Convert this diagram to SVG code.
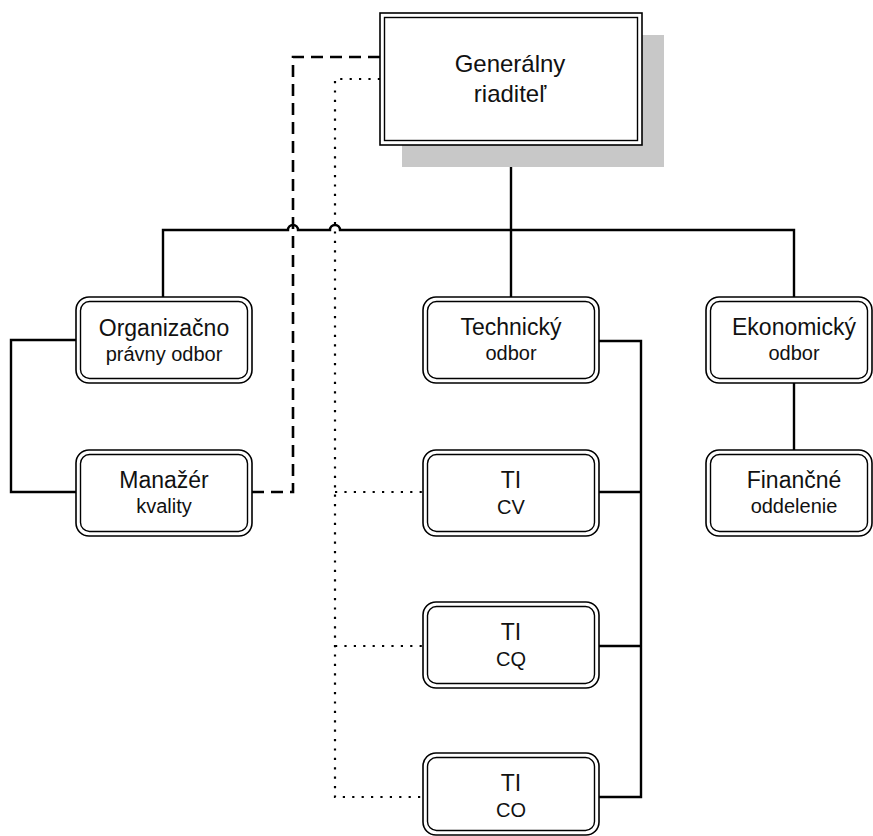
<svg xmlns="http://www.w3.org/2000/svg" width="873" height="836" viewBox="0 0 873 836">
<style>
.bg{fill:#fff}
.o{fill:#fff;stroke:#000;stroke-width:1.6}
.i{fill:none;stroke:#000;stroke-width:1.4}
.t1{font-family:"Liberation Sans",Arial,sans-serif;font-size:23px;fill:#111;text-anchor:middle}
.t2{font-family:"Liberation Sans",Arial,sans-serif;font-size:20px;fill:#111;text-anchor:middle}
.tg{font-family:"Liberation Sans",Arial,sans-serif;font-size:24px;fill:#111;text-anchor:middle}
.solid{fill:none;stroke:#000;stroke-width:2.4}
.dash{fill:none;stroke:#000;stroke-width:2.6;stroke-dasharray:12 7}
.dot{fill:none;stroke:#000;stroke-width:2.2;stroke-dasharray:2.2 7.2}
</style>
<rect class="bg" x="0" y="0" width="873" height="836"/>
<g id="connectors">
<path class="solid" d="M511 145 V297"/>
<path class="solid" d="M163 297 V230 H288 a5 5 0 0 1 10 0 H330 a5 5 0 0 1 10 0 H794 V297"/>
<path class="solid" d="M794 383 V450"/>
<path class="solid" d="M76 340 H11 V492 H76"/>
<path class="solid" d="M599 341 H641 V797 H599 M599 492 H641 M599 646 H641"/>
<path class="dash" d="M252 492 H293 V57 H380"/>
<path class="dot" d="M380 79 H335 V797 H423 M335 492 H423 M335 646 H423"/>
</g>
<g id="generalny-riaditel">
<rect x="402" y="35" width="262" height="132" fill="#c8c8c8"/>
<rect class="o" x="380" y="13" width="262" height="132"/>
<rect class="i" x="384.5" y="17.5" width="253" height="123"/>
<text class="tg" x="510" y="72">Generálny</text>
<text class="tg" x="510" y="102">riaditeľ</text>
</g>
<g id="organizacno">
<rect class="o" x="76" y="297" width="176" height="86" rx="13"/>
<rect class="i" x="80.5" y="301.5" width="167" height="77" rx="9"/>
<text class="t1" x="164" y="336">Organizačno</text>
<text class="t2" x="164" y="361">právny odbor</text>
</g>
<g id="technicky">
<rect class="o" x="423" y="297" width="176" height="86" rx="13"/>
<rect class="i" x="427.5" y="301.5" width="167" height="77" rx="9"/>
<text class="t1" x="511" y="335">Technický</text>
<text class="t2" x="511" y="360">odbor</text>
</g>
<g id="ekonomicky">
<rect class="o" x="706" y="297" width="166" height="86" rx="13"/>
<rect class="i" x="710.5" y="301.5" width="157" height="77" rx="9"/>
<text class="t1" x="794" y="335">Ekonomický</text>
<text class="t2" x="794" y="360">odbor</text>
</g>
<g id="manazer">
<rect class="o" x="76" y="450" width="176" height="86" rx="13"/>
<rect class="i" x="80.5" y="454.5" width="167" height="77" rx="9"/>
<text class="t1" x="164" y="488">Manažér</text>
<text class="t2" x="164" y="513">kvality</text>
</g>
<g id="ti-cv">
<rect class="o" x="423" y="450" width="176" height="86" rx="13"/>
<rect class="i" x="427.5" y="454.5" width="167" height="77" rx="9"/>
<text class="t1" x="511" y="488">TI</text>
<text class="t2" x="511" y="514">CV</text>
</g>
<g id="financne">
<rect class="o" x="706" y="450" width="166" height="86" rx="13"/>
<rect class="i" x="710.5" y="454.5" width="157" height="77" rx="9"/>
<text class="t1" x="794" y="488">Finančné</text>
<text class="t2" x="794" y="513">oddelenie</text>
</g>
<g id="ti-cq">
<rect class="o" x="423" y="602" width="176" height="86" rx="13"/>
<rect class="i" x="427.5" y="606.5" width="167" height="77" rx="9"/>
<text class="t1" x="511" y="640">TI</text>
<text class="t2" x="511" y="666">CQ</text>
</g>
<g id="ti-co">
<rect class="o" x="423" y="753" width="176" height="82" rx="13"/>
<rect class="i" x="427.5" y="757.5" width="167" height="73" rx="9"/>
<text class="t1" x="511" y="791">TI</text>
<text class="t2" x="511" y="817">CO</text>
</g>
</svg>
